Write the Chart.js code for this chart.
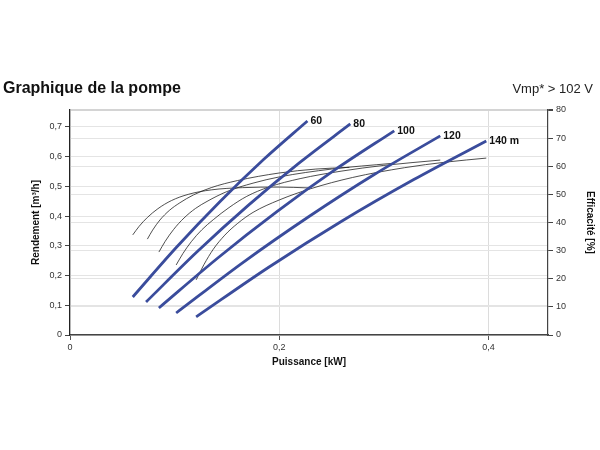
<!DOCTYPE html>
<html>
<head>
<meta charset="utf-8">
<title>Graphique de la pompe</title>
<script src="https://cdn.jsdelivr.net/npm/chart.js@4.4.1/dist/chart.umd.min.js"></script>
<style>
  body { margin: 0; background: #fff; }
  #wrap { position: relative; width: 600px; height: 450px; }
</style>
</head>
<body>
<div id="wrap"><canvas id="pumpChart" width="600" height="450"></canvas></div>
<script>
// Head curves: [power kW, flow m3/h]
const head60  = [[0.060, 0.128], [0.1018, 0.295], [0.1435, 0.449], [0.1853, 0.591], [0.227, 0.720]];
const head80  = [[0.0727, 0.111], [0.1215, 0.280], [0.1704, 0.436], [0.2192, 0.579], [0.268, 0.710]];
const head100 = [[0.085, 0.091], [0.1413, 0.259], [0.1975, 0.414], [0.2538, 0.557], [0.310, 0.687]];
const head120 = [[0.1015, 0.074], [0.1646, 0.242], [0.2278, 0.397], [0.2909, 0.540], [0.354, 0.670]];
const head140 = [[0.1206, 0.061], [0.19, 0.228], [0.2593, 0.382], [0.3287, 0.523], [0.398, 0.653]];
const headLabels = ['60', '80', '100', '120', '140 m'];

// Efficiency curves: [power kW, efficiency %]
const eff60  = [[0.060, 35.6], [0.066, 38.6], [0.074, 41.8], [0.084, 44.9], [0.097, 47.8], [0.113, 50.0], [0.135, 51.6], [0.165, 52.4], [0.20, 52.6], [0.228, 52.3]];
const eff80  = [[0.074, 34.1], [0.079, 37.3], [0.086, 40.9], [0.095, 44.3], [0.105, 47.0], [0.118, 49.8], [0.135, 52.4], [0.16, 54.9], [0.20, 57.6], [0.235, 59.0], [0.267, 59.6]];
const eff100 = [[0.085, 29.5], [0.091, 33.3], [0.099, 37.5], [0.109, 41.6], [0.12, 45.0], [0.131, 47.5], [0.15, 51.0], [0.175, 54.0], [0.20, 56.2], [0.25, 59.0], [0.307, 61.0]];
const eff120 = [[0.1015, 24.9], [0.108, 29.0], [0.116, 33.2], [0.126, 37.4], [0.137, 41.0], [0.152, 45.3], [0.169, 49.3], [0.19, 52.6], [0.22, 55.6], [0.26, 58.3], [0.30, 60.3], [0.354, 62.2]];
const eff140 = [[0.1206, 19.6], [0.128, 25.0], [0.137, 30.5], [0.148, 35.5], [0.16, 39.6], [0.175, 43.6], [0.20, 48.0], [0.23, 52.0], [0.27, 56.0], [0.32, 59.5], [0.36, 61.5], [0.398, 62.9]];

// Axis ranges
const xMax = 0.457;
const yMax = 0.757;
const effMax = 80;

const titleText = 'Graphique de la pompe';
const voltageText = 'Vmp* > 102 V';

const FONT = "'Liberation Sans', Arial, sans-serif";
const BLUE = '#3a4c9c';

function toPoints(arr) {
    return arr.map(p => ({ x: p[0], y: p[1] }));
}

function fmt(v) {
    return String(Math.round(v * 10) / 10).replace('.', ',');
}

const headSets = [head60, head80, head100, head120, head140].map((d, i) => ({
    label: headLabels[i],
    data: toPoints(d),
    yAxisID: 'y',
    borderColor: BLUE,
    borderWidth: 2.8,
    pointRadius: 0,
    cubicInterpolationMode: 'monotone',
    fill: false
}));

const effSets = [eff60, eff80, eff100, eff120, eff140].map((d, i) => ({
    label: 'eff ' + headLabels[i],
    data: toPoints(d),
    yAxisID: 'y2',
    borderColor: '#222',
    borderWidth: 0.8,
    pointRadius: 0,
    cubicInterpolationMode: 'monotone',
    fill: false
}));

// Curve labels at the end of each head curve + header texts
const textPlugin = {
    id: 'texts',
    afterDatasetsDraw(chart) {
        const ctx = chart.ctx;
        ctx.save();
        ctx.fillStyle = '#111';
        ctx.font = 'bold 10.5px ' + FONT;
        ctx.textBaseline = 'middle';
        ctx.textAlign = 'left';
        headSets.forEach((ds, i) => {
            const meta = chart.getDatasetMeta(i);
            const last = meta.data[meta.data.length - 1];
            ctx.fillText(headLabels[i], last.x + 3, last.y);
        });
        ctx.restore();
    },
    afterDraw(chart) {
        const ctx = chart.ctx;
        ctx.save();
        ctx.fillStyle = '#111';
        ctx.textBaseline = 'alphabetic';
        ctx.font = 'bold 16px ' + FONT;
        ctx.textAlign = 'left';
        ctx.fillText(titleText, 3, 93);
        ctx.font = '13px ' + FONT;
        ctx.fillStyle = '#222';
        ctx.textAlign = 'right';
        ctx.fillText(voltageText, 593, 93);
        ctx.restore();
    }
};

const ctx = document.getElementById('pumpChart').getContext('2d');
new Chart(ctx, {
    type: 'line',
    data: { datasets: headSets.concat(effSets) },
    plugins: [textPlugin],
    options: {
        responsive: false,
        animation: false,
        layout: { padding: { left: 26, right: 0, top: 110, bottom: 78 } },
        plugins: {
            legend: { display: false },
            tooltip: { enabled: false },
            title: { display: false }
        },
        scales: {
            x: {
                type: 'linear',
                min: 0,
                max: xMax,
                ticks: {
                    stepSize: 0.2,
                    includeBounds: false,
                    callback: v => fmt(v),
                    font: { family: FONT, size: 9 },
                    color: '#333',
                    padding: 2,
                    maxRotation: 0
                },
                grid: { color: '#dcdcdc', tickLength: 5, tickColor: '#555' },
                border: { color: '#444', width: 1.5 },
                title: {
                    display: true,
                    text: 'Puissance [kW]',
                    font: { family: FONT, size: 10, weight: 'bold' },
                    color: '#111',
                    padding: { top: 4, bottom: 4 }
                },
                afterFit: s => { s.height = 37; }
            },
            y: {
                position: 'left',
                min: 0,
                max: yMax,
                ticks: {
                    stepSize: 0.1,
                    includeBounds: false,
                    callback: v => fmt(v),
                    font: { family: FONT, size: 9 },
                    color: '#333',
                    padding: 3
                },
                grid: { color: '#e4e4e4', tickLength: 5, tickColor: '#444' },
                border: { color: '#222', width: 1.2 },
                title: {
                    display: true,
                    text: 'Rendement [m³/h]',
                    font: { family: FONT, size: 10, weight: 'bold' },
                    color: '#111',
                    padding: { top: 4, bottom: 4 }
                },
                afterFit: s => { s.width = 44; }
            },
            y2: {
                position: 'right',
                min: 0,
                max: effMax,
                ticks: {
                    stepSize: 10,
                    callback: v => fmt(v),
                    font: { family: FONT, size: 9 },
                    color: '#333',
                    padding: 3
                },
                grid: {
                    color: c => (c.tick && c.tick.value === effMax) ? '#d4d4d4' : '#e4e4e4',
                    lineWidth: c => (c.tick && c.tick.value === effMax) ? 2 : 1,
                    tickLength: 5,
                    tickColor: '#444'
                },
                border: { color: '#444', width: 1.2 },
                title: {
                    display: true,
                    text: 'Efficacité [%]',
                    font: { family: FONT, size: 10, weight: 'bold' },
                    color: '#111',
                    padding: { top: 4, bottom: 4 }
                },
                afterFit: s => { s.width = 52; }
            }
        }
    }
});
</script>
</body>
</html>
